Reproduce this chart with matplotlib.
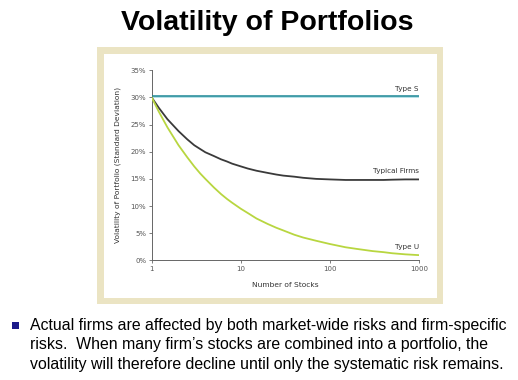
import matplotlib
matplotlib.use("Agg")
import matplotlib.pyplot as plt
from matplotlib.patches import Rectangle

# ---- data ----
n_stocks = [1, 1.2, 1.5, 2, 2.5, 3, 3.5, 4, 5, 6, 7, 8, 10, 12, 15, 20, 25, 30, 40, 50, 70,
            100, 150, 200, 300, 400, 500, 700, 1000]
type_s = [30] * len(n_stocks)
typical = [30, 28.1, 26.0, 23.8, 22.3, 21.2, 20.5, 19.9, 19.2, 18.6, 18.2, 17.8, 17.3, 16.9,
           16.5, 16.1, 15.8, 15.6, 15.4, 15.2, 15.0, 14.9, 14.8, 14.8, 14.8, 14.8, 14.85,
           14.9, 14.9]
type_u = [30, 27.4, 24.5, 21.2, 19.0, 17.3, 16.0, 15.0, 13.4, 12.2, 11.3, 10.6, 9.5, 8.7,
          7.7, 6.7, 6.0, 5.5, 4.7, 4.2, 3.6, 3.0, 2.4, 2.1, 1.7, 1.5, 1.3, 1.1, 0.95]
x_ticks = [1, 10, 100, 1000]
x_ticklabels = ["1", "10", "100", "1000"]
y_ticks = [0, 5, 10, 15, 20, 25, 30, 35]
y_ticklabels = ["0%", "5%", "10%", "15%", "20%", "25%", "30%", "35%"]
title = "Volatility of Portfolios"
bullet_lines = [
    "Actual firms are affected by both market-wide risks and firm-specific",
    "risks.  When many firm\u2019s stocks are combined into a portfolio, the",
    "volatility will therefore decline until only the systematic risk remains.",
]

W, H = 518, 380
fig = plt.figure(figsize=(W / 100, H / 100), dpi=100)
fig.patch.set_facecolor("white")

def fx(px):
    return px / W

def fy(py):
    return 1 - py / H

# panel
beige = "#ebe4c3"
fig.patches.append(Rectangle((fx(97), fy(304)), fx(443) - fx(97), fy(47) - fy(304),
                             transform=fig.transFigure, facecolor=beige, edgecolor="none", zorder=-2))
fig.patches.append(Rectangle((fx(104), fy(298)), fx(437) - fx(104), fy(54) - fy(298),
                             transform=fig.transFigure, facecolor="white", edgecolor="none", zorder=-1))

# title
fig.text(fx(267), fy(23), title, ha="center", va="center", fontsize=20.5, fontweight="bold",
         family="Liberation Sans", color="black")

# bullet text
fig.patches.append(Rectangle((fx(12), fy(329)), fx(7), fy(322) - fy(329),
                             transform=fig.transFigure, facecolor="#1c1a8a", edgecolor="none"))
for i, line in enumerate(bullet_lines):
    fig.text(fx(30), fy(330 + i * 19.5), line, ha="left", va="baseline", fontsize=11.4,
             family="Liberation Sans", color="black")

# axes
ax = fig.add_axes([fx(151.7), fy(260.3), fx(419) - fx(151.7), fy(70.3) - fy(260.3)])
ax.set_facecolor("none")
ax.set_zorder(1)
small_font = ["DejaVu Sans"]
axis_grey = "#555555"

ax.plot(n_stocks, type_s, color="#a9dbe3", lw=1.2, zorder=2)
ax.plot(n_stocks, [v + 0.18 for v in type_s], color="#1e8796", lw=1.1, zorder=3)
ax.plot(n_stocks, typical, color="#3a3a3a", lw=1.3, zorder=3)
ax.plot(n_stocks, type_u, color="#b8d640", lw=1.3, zorder=3)

ax.set_xscale("log")
ax.set_xlim(1, 1000)
ax.set_ylim(0, 35)
ax.set_xticks(x_ticks)
ax.set_xticklabels(x_ticklabels)
ax.minorticks_off()
ax.set_yticks(y_ticks)
ax.set_yticklabels(y_ticklabels)
for s in ["top", "right"]:
    ax.spines[s].set_visible(False)
for s in ["left", "bottom"]:
    ax.spines[s].set_color("#666666")
    ax.spines[s].set_linewidth(0.7)
ax.tick_params(axis="both", length=2, width=0.6, color="#666666", labelsize=5,
               labelcolor=axis_grey, pad=2)
for lab in ax.get_xticklabels() + ax.get_yticklabels():
    lab.set_family(small_font)

ax.set_xlabel("Number of Stocks", fontsize=5.4, color="#333333", family=small_font, labelpad=7)
ax.set_ylabel("Volatility of Portfolio (Standard Deviation)", fontsize=5.4, color="#333333",
              family=small_font, labelpad=7)

ax.text(1000, 31.0, "Type S", ha="right", va="bottom", fontsize=5.2, color="#333333", family=small_font)
ax.text(1000, 15.9, "Typical Firms", ha="right", va="bottom", fontsize=5.2, color="#333333", family=small_font)
ax.text(1000, 1.9, "Type U", ha="right", va="bottom", fontsize=5.2, color="#333333", family=small_font)

fig.savefig("out.png", dpi=100)
